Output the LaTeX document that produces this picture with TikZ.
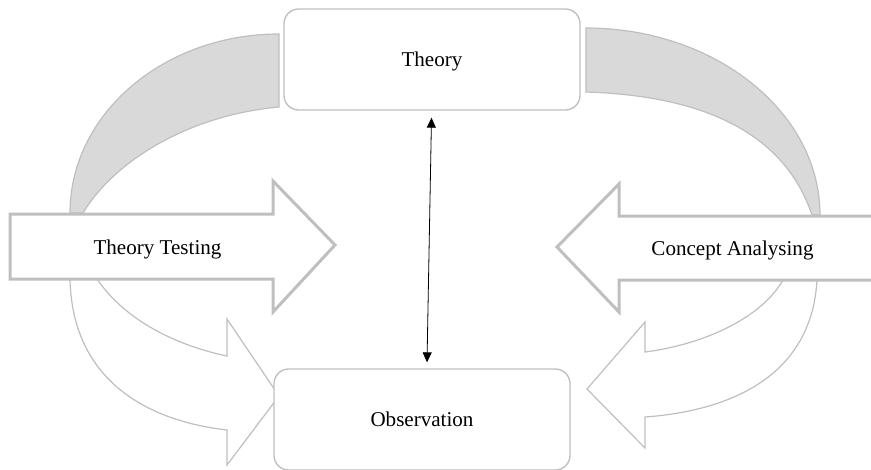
\documentclass[tikz,border=0pt]{standalone}
\usepackage{fontspec}
\setmainfont{Liberation Serif}
\usetikzlibrary{arrows.meta,calc}

\definecolor{edgegray}{RGB}{191,191,191}
\definecolor{bandgray}{RGB}{217,217,217}

\tikzset{every picture/.style={line width=0.75pt}}
\tikzset{
  roundbox/.style={draw=edgegray, line width=1pt, fill=white, rounded corners=11pt,
    minimum width=222pt, minimum height=75.75pt, inner sep=0pt,
    text height=14pt, text depth=3.4pt, font=\fontsize{15.8}{19}\selectfont},
  blockarrow/.style={draw=edgegray, line width=2.25pt, fill=white, line join=miter},
  curvedarrow/.style={draw=edgegray, line width=0.9pt, fill=white},
  band/.style={draw=edgegray, line width=0.9pt, fill=bandgray},
  arrowtext/.style={font=\fontsize{15.8}{19}\selectfont, inner sep=0pt, anchor=base},
  linkarrow/.style={{Triangle[length=7.5pt,width=6.75pt]}-{Triangle[length=7.5pt,width=6.75pt]}, line width=0.6pt, black}
}

\begin{document}
\begin{tikzpicture}[x=0.75pt,y=0.75pt,yscale=-1,xscale=1]
\useasboundingbox (0,0) rectangle (871,469);
\clip (0,0) rectangle (871,469);

%Shape: Curved band left
\draw [band] (279,34) .. controls (163.6,34) and (70,114.1) .. (70,213) -- (83,213) .. controls (115,160) and (190,115) .. (279,107) -- cycle ;
%Shape: Curved band right
\draw [band] (586,28) .. controls (715,28) and (820,112) .. (820,215) -- (812,215) .. controls (780,120) and (680,95) .. (586,92) -- cycle ;

%Shape: Curved Arrow left
\draw [curvedarrow] (70,279) .. controls (72,375) and (140,420) .. (227,430) -- (227,465) -- (279,396) -- (227,319) -- (227,356) .. controls (175,345) and (125,320) .. (97,279) -- cycle ;
%Shape: Curved Arrow right
\draw [curvedarrow] (817,280) .. controls (812,370) and (740,410) .. (645,417) -- (645,448) -- (587,389) -- (645,322) -- (645,352) .. controls (700,345) and (760,320) .. (783,280) -- cycle ;

%Shape: Right Arrow
\draw [blockarrow] (10,214) -- (273,214) -- (273,181) -- (335,245) -- (273,312) -- (273,279) -- (10,279) -- cycle ;
%Shape: Left Arrow
\draw [blockarrow] (880,216) -- (619,216) -- (619,184) -- (557,247) -- (619,312) -- (619,280) -- (880,280) -- cycle ;

%Rounded Rect
\node [roundbox] (theory) at (432,59.5) {Theory};
%Rounded Rect
\node [roundbox] (obs) at (422,419.5) {Observation};

% Text Node
\node [arrowtext] (testing) at (157.5,254.5) {Theory Testing};
% Text Node
\node [arrowtext] (analysing) at (732.5,255.5) {Concept Analysing};

%Straight Lines
\draw [linkarrow] ($(theory.south)+(-0.5,7)$) -- ($(obs.north)+(5,-6)$) ;

\end{tikzpicture}
\end{document}
